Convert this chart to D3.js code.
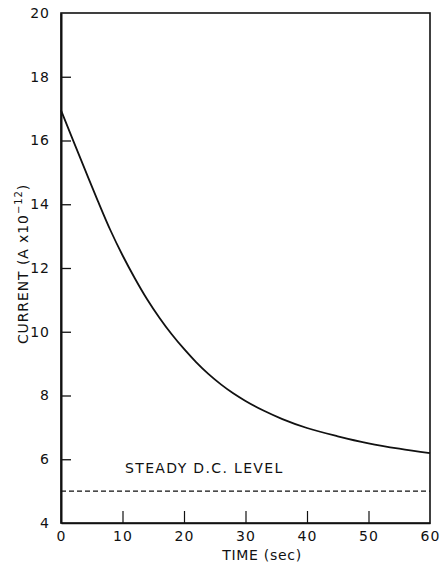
<!DOCTYPE html>
<html>
<head>
<meta charset="utf-8">
<script src="https://cdn.jsdelivr.net/npm/d3@7"></script>
<style>
  html, body { margin: 0; padding: 0; background: #fff; }
  svg { display: block; }
  text { font-family: "DejaVu Sans", sans-serif; fill: #111; }
</style>
</head>
<body>
<svg id="chart" width="445" height="567"></svg>
<script>
// Decay of current after switching, sampled along the time axis
const timeSec = [0, 2, 4, 6, 8, 10, 12, 14, 16, 18, 20, 22, 24, 26, 28, 30, 33, 36, 40, 45, 50, 55, 60];
const currentA = [16.95, 15.99, 15.04, 14.1, 13.2, 12.4, 11.68, 11.02, 10.44, 9.92, 9.46, 9.04, 8.67, 8.35, 8.07, 7.83, 7.52, 7.26, 6.98, 6.72, 6.5, 6.33, 6.19];

// Steady d.c. reference level
const steadyLevel = 5;
const steadyLabel = "STEADY D.C. LEVEL";

// Axis ticks
const xTicks = [0, 10, 20, 30, 40, 50, 60];
const yTicks = [4, 6, 8, 10, 12, 14, 16, 18, 20];
const xTitle = "TIME (sec)";

const svg = d3.select("#chart");
const m = { left: 61, right: 430, top: 13, bottom: 523 };

const x = d3.scaleLinear().domain([0, 60]).range([m.left, m.right]);
const y = d3.scaleLinear().domain([4, 20]).range([m.bottom, m.top]);

const FONT = "DejaVu Sans, sans-serif";

// Frame
svg.append("rect")
  .attr("x", m.left).attr("y", m.top)
  .attr("width", m.right - m.left).attr("height", m.bottom - m.top)
  .attr("fill", "none").attr("stroke", "#111").attr("stroke-width", 1.6);

// Left axis: inward ticks, labels outside
const yAxis = d3.axisLeft(y).tickValues(yTicks).tickSizeInner(-10).tickSizeOuter(0).tickPadding(11)
  .tickFormat(d3.format("d"));
const gy = svg.append("g").attr("transform", `translate(${m.left},0)`).call(yAxis);
gy.select(".domain").attr("stroke", "#111").attr("stroke-width", 2);
gy.selectAll(".tick line").attr("stroke", "#111").attr("stroke-width", 1.3)
  .filter(d => d === 4 || d === 20).remove();
gy.selectAll(".tick text").attr("font-size", 14).attr("font-family", FONT)
  .attr("letter-spacing", 1).attr("fill", "#111");

// Bottom axis: inward ticks, labels below
const xAxis = d3.axisBottom(x).tickValues(xTicks).tickSizeInner(-12).tickSizeOuter(0).tickPadding(8)
  .tickFormat(d3.format("d"));
const gx = svg.append("g").attr("transform", `translate(0,${m.bottom})`).call(xAxis);
gx.select(".domain").attr("stroke", "#111").attr("stroke-width", 1.6);
gx.selectAll(".tick line").attr("stroke", "#111").attr("stroke-width", 1.2)
  .filter(d => d === 0 || d === 60).remove();
gx.selectAll(".tick text").attr("font-size", 14).attr("font-family", FONT)
  .attr("letter-spacing", 1).attr("fill", "#111");

// Steady level, dashed
svg.append("line")
  .attr("x1", x(0)).attr("x2", x(60))
  .attr("y1", y(steadyLevel)).attr("y2", y(steadyLevel))
  .attr("stroke", "#111").attr("stroke-width", 1.2)
  .attr("stroke-dasharray", "5,3");

svg.append("text")
  .attr("x", 125).attr("y", y(steadyLevel) - 18)
  .attr("font-size", 14).attr("letter-spacing", 1.35)
  .text(steadyLabel);

// Current decay curve
const line = d3.line().x((d, i) => x(timeSec[i])).y(d => y(d)).curve(d3.curveMonotoneX);
svg.append("path")
  .datum(currentA)
  .attr("d", line)
  .attr("fill", "none").attr("stroke", "#111").attr("stroke-width", 1.8);

// Axis titles
svg.append("text")
  .attr("x", 262).attr("y", 560)
  .attr("text-anchor", "middle").attr("font-size", 14).attr("letter-spacing", 0.7)
  .text(xTitle);

const yTitle = svg.append("text")
  .attr("transform", "translate(28,264) rotate(-90)")
  .attr("text-anchor", "middle").attr("font-size", 14).attr("letter-spacing", 0.9);
yTitle.append("tspan").text("CURRENT (A x10");
yTitle.append("tspan").attr("dy", -6).attr("font-size", 10).text("−12");
yTitle.append("tspan").attr("dy", 6).text(")");
</script>
</body>
</html>
